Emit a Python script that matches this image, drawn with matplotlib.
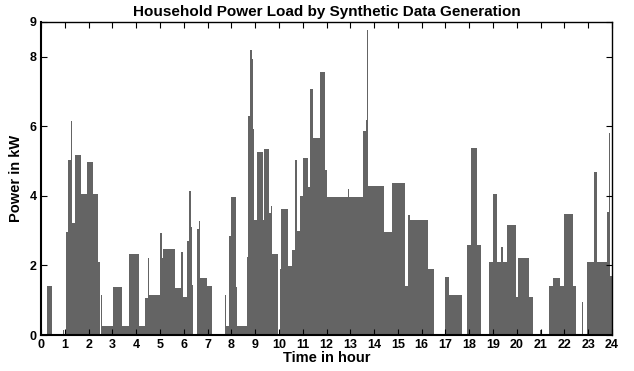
import matplotlib.pyplot as plt
import numpy as np

# step start times (hours) and power (kW) held until the next start
t = [0.00, 0.24, 0.47, 0.92, 0.97, 1.05, 1.15, 1.26, 1.31, 1.45,
     1.67, 1.92, 2.17, 2.38, 2.50, 2.53, 2.58, 3.04, 3.40, 3.68,
     3.71, 4.13, 4.36, 4.38, 4.50, 4.56, 5.00, 5.07, 5.14, 5.63,
     5.87, 5.98, 6.15, 6.20, 6.31, 6.36, 6.39, 6.54, 6.63, 6.68,
     6.97, 7.17, 7.74, 7.78, 7.92, 7.97, 8.20, 8.25, 8.65, 8.68,
     8.72, 8.79, 8.86, 8.91, 8.97, 9.09, 9.32, 9.39, 9.58, 9.65,
     9.72, 9.98, 10.05, 10.10, 10.37, 10.54, 10.68, 10.78, 10.89, 11.03,
     11.24, 11.30, 11.45, 11.73, 11.94, 12.00, 12.92, 12.96, 13.52, 13.66,
     13.69, 13.76, 14.43, 14.74, 15.30, 15.44, 15.50, 16.25, 16.52, 16.98,
     17.16, 17.68, 17.92, 18.06, 18.31, 18.48, 18.85, 19.00, 19.18, 19.34,
     19.41, 19.60, 19.97, 20.04, 20.50, 20.69, 20.97, 21.01, 21.35, 21.53,
     21.82, 21.98, 22.38, 22.48, 22.76, 22.80, 22.94, 23.26, 23.36, 23.80,
     23.87, 23.93, 24.00]
p = [0.03, 1.41, 0.03, 0.14, 0.03, 2.96, 5.04, 6.14, 3.22, 5.18,
     4.05, 4.97, 4.05, 2.10, 0.00, 1.16, 0.27, 1.38, 0.27, 3.24,
     2.33, 0.27, 0.00, 1.07, 2.20, 1.15, 2.92, 2.22, 2.47, 1.35,
     2.39, 1.10, 2.71, 4.15, 3.10, 1.45, 0.00, 3.04, 3.28, 1.65,
     1.41, 0.03, 1.16, 0.26, 2.84, 3.96, 1.39, 0.27, 2.25, 3.69,
     6.29, 8.19, 7.95, 5.93, 3.30, 5.27, 3.30, 5.36, 3.50, 3.70,
     2.32, 0.00, 1.90, 3.61, 1.98, 2.44, 5.03, 3.00, 4.00, 5.08,
     4.26, 7.06, 5.67, 7.55, 4.74, 3.96, 4.20, 3.96, 5.86, 6.18,
     8.78, 4.29, 2.97, 4.36, 1.42, 3.45, 3.30, 1.90, 0.02, 1.66,
     1.15, 0.00, 2.59, 5.38, 2.59, 0.00, 2.09, 4.04, 2.09, 2.52,
     2.09, 3.15, 1.10, 2.20, 1.10, 0.00, 0.14, 0.00, 1.42, 1.65,
     1.42, 3.48, 1.42, 0.00, 0.96, 0.00, 2.09, 4.69, 2.09, 3.54,
     5.80, 1.70, 1.70]

xticks = list(range(0, 25))
yticks = [0, 2, 4, 6, 8, 9]

plt.rcParams['font.family'] = ['Liberation Sans', 'DejaVu Sans']
plt.rcParams['font.weight'] = 'bold'

fig = plt.figure(figsize=(6.34, 3.71), dpi=100)
ax = fig.add_axes([41 / 634, 1 - 335 / 371, 571 / 634, 313 / 371])

ax.fill_between(t, p, step='post', color='#646464', linewidth=0)

ax.set_xlim(0, 24)
ax.set_ylim(0, 9)
ax.set_xticks(xticks)
ax.set_yticks(yticks)
ax.tick_params(direction='in', top=True, right=True, labelsize=9, length=4, pad=3)
for s in ax.spines.values():
    s.set_linewidth(1)
ax.spines['left'].set_linewidth(1.5)
ax.spines['bottom'].set_linewidth(1.5)

ax.set_title('Household Power Load by Synthetic Data Generation', fontsize=11, fontweight='bold', pad=4)
ax.set_xlabel('Time in hour', fontsize=10.5, fontweight='bold', labelpad=0)
ax.set_ylabel('Power in kW', fontsize=10.5, fontweight='bold', labelpad=5)

fig.savefig('out.png', dpi=100)
